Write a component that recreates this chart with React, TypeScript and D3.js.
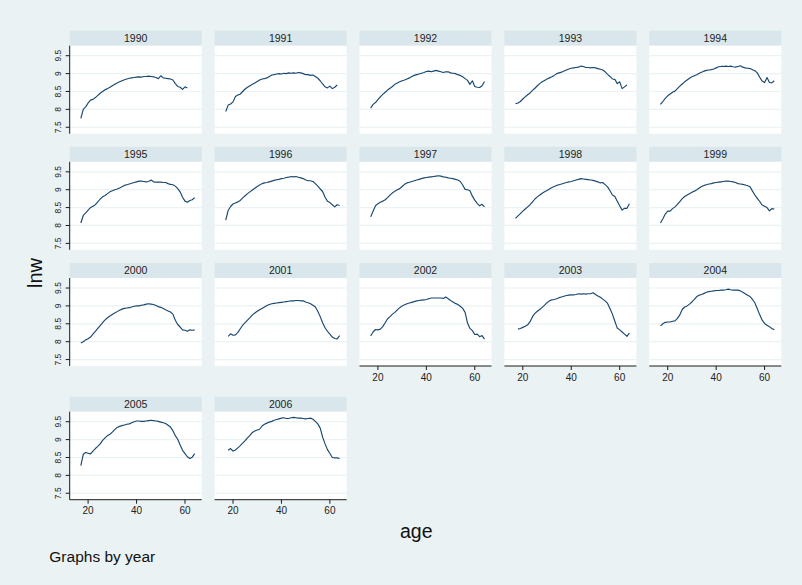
import React from "react";
import * as d3 from "d3";

// Mean log wage (lnw) by age, one series per survey year.
const years = [1990, 1991, 1992, 1993, 1994, 1995, 1996, 1997, 1998, 1999, 2000, 2001, 2002, 2003, 2004, 2005, 2006];
// First age observed in each year's series (ages run consecutively from here).
const startAges = [17, 17, 17, 17, 17, 17, 17, 17, 17, 17, 17, 18, 17, 18, 17, 17, 18];

const lnw1990 = [7.75, 8.0, 8.07, 8.18, 8.26, 8.28, 8.33, 8.39, 8.45, 8.5, 8.55, 8.58, 8.62, 8.66, 8.7, 8.74, 8.77, 8.8, 8.83, 8.85, 8.87, 8.88, 8.89, 8.9, 8.91, 8.9, 8.92, 8.92, 8.93, 8.92, 8.91, 8.89, 8.86, 8.94, 8.88, 8.87, 8.86, 8.85, 8.82, 8.72, 8.64, 8.62, 8.56, 8.63, 8.6];
const lnw1991 = [7.94, 8.12, 8.15, 8.21, 8.36, 8.4, 8.43, 8.5, 8.57, 8.62, 8.66, 8.7, 8.74, 8.78, 8.82, 8.85, 8.86, 8.88, 8.92, 8.96, 8.97, 8.99, 9.0, 8.99, 9.01, 9.0, 9.02, 9.01, 9.02, 9.01, 9.03, 9.02, 9.0, 8.97, 8.97, 8.95, 8.96, 8.92, 8.87, 8.8, 8.71, 8.63, 8.6, 8.65, 8.58, 8.62, 8.68];
const lnw1992 = [8.03, 8.14, 8.19, 8.27, 8.35, 8.42, 8.48, 8.54, 8.59, 8.64, 8.7, 8.74, 8.77, 8.8, 8.82, 8.85, 8.88, 8.92, 8.95, 8.97, 8.99, 9.01, 9.03, 9.06, 9.07, 9.05, 9.07, 9.09, 9.07, 9.05, 9.03, 9.05, 9.05, 9.02, 9.01, 9.0, 8.97, 8.95, 8.91, 8.86, 8.81, 8.7, 8.8, 8.64, 8.62, 8.61, 8.66, 8.78];
const lnw1993 = [8.16, 8.18, 8.22, 8.29, 8.35, 8.41, 8.46, 8.53, 8.59, 8.66, 8.72, 8.77, 8.81, 8.85, 8.88, 8.91, 8.95, 9.0, 9.02, 9.04, 9.07, 9.1, 9.13, 9.15, 9.16, 9.17, 9.18, 9.21, 9.2, 9.17, 9.17, 9.16, 9.17, 9.16, 9.14, 9.12, 9.1, 9.05, 8.98, 8.92, 8.85, 8.84, 8.72, 8.77, 8.58, 8.63, 8.68];
const lnw1994 = [8.14, 8.22, 8.31, 8.38, 8.43, 8.48, 8.51, 8.58, 8.65, 8.71, 8.77, 8.82, 8.87, 8.91, 8.94, 8.97, 9.01, 9.04, 9.07, 9.09, 9.1, 9.11, 9.13, 9.16, 9.19, 9.2, 9.2, 9.21, 9.2, 9.21, 9.19, 9.18, 9.2, 9.22, 9.18, 9.16, 9.15, 9.14, 9.11, 9.08, 9.02, 8.9, 8.79, 8.75, 8.89, 8.75, 8.74, 8.8];
const lnw1995 = [8.07, 8.28, 8.35, 8.43, 8.5, 8.54, 8.58, 8.66, 8.74, 8.8, 8.84, 8.89, 8.94, 8.97, 9.0, 9.02, 9.05, 9.08, 9.12, 9.14, 9.16, 9.18, 9.2, 9.22, 9.24, 9.24, 9.23, 9.22, 9.23, 9.27, 9.22, 9.21, 9.21, 9.21, 9.2, 9.2, 9.17, 9.15, 9.14, 9.1, 9.03, 8.94, 8.79, 8.68, 8.65, 8.7, 8.72, 8.78];
const lnw1996 = [8.15, 8.42, 8.53, 8.6, 8.63, 8.66, 8.7, 8.77, 8.83, 8.89, 8.94, 8.99, 9.04, 9.09, 9.13, 9.17, 9.19, 9.2, 9.22, 9.24, 9.26, 9.28, 9.29, 9.31, 9.32, 9.34, 9.35, 9.37, 9.36, 9.37, 9.35, 9.33, 9.31, 9.27, 9.25, 9.25, 9.23, 9.17, 9.1, 9.02, 8.95, 8.79, 8.68, 8.64, 8.58, 8.52, 8.58, 8.56];
const lnw1997 = [8.24, 8.4, 8.55, 8.61, 8.65, 8.68, 8.72, 8.78, 8.85, 8.91, 8.96, 9.0, 9.03, 9.09, 9.15, 9.19, 9.21, 9.23, 9.25, 9.27, 9.29, 9.31, 9.33, 9.34, 9.35, 9.36, 9.37, 9.38, 9.39, 9.38, 9.36, 9.35, 9.33, 9.32, 9.31, 9.29, 9.27, 9.23, 9.13, 9.01, 9.0, 8.97, 8.82, 8.71, 8.62, 8.55, 8.59, 8.52];
const lnw1998 = [8.2, 8.27, 8.33, 8.4, 8.46, 8.52, 8.58, 8.66, 8.74, 8.8, 8.85, 8.9, 8.94, 8.98, 9.02, 9.06, 9.09, 9.12, 9.14, 9.16, 9.18, 9.2, 9.22, 9.23, 9.25, 9.27, 9.29, 9.31, 9.3, 9.29, 9.28, 9.27, 9.26, 9.24, 9.22, 9.19, 9.2, 9.14, 9.08, 8.97, 8.85, 8.81, 8.68, 8.55, 8.43, 8.48, 8.48, 8.61];
const lnw1999 = [8.07, 8.19, 8.32, 8.4, 8.4, 8.47, 8.52, 8.59, 8.67, 8.75, 8.81, 8.85, 8.89, 8.93, 8.96, 9.0, 9.05, 9.09, 9.12, 9.14, 9.16, 9.17, 9.19, 9.2, 9.21, 9.22, 9.23, 9.24, 9.24, 9.23, 9.22, 9.2, 9.17, 9.16, 9.15, 9.13, 9.11, 9.08, 8.96, 8.85, 8.76, 8.67, 8.57, 8.54, 8.5, 8.41, 8.47, 8.46];
const lnw2000 = [7.96, 8.0, 8.05, 8.08, 8.13, 8.21, 8.29, 8.37, 8.45, 8.53, 8.61, 8.67, 8.72, 8.76, 8.8, 8.84, 8.88, 8.91, 8.93, 8.94, 8.95, 8.97, 8.99, 9.0, 9.0, 9.02, 9.03, 9.05, 9.06, 9.05, 9.04, 9.01, 8.98, 8.96, 8.93, 8.89, 8.86, 8.83, 8.77, 8.6, 8.48, 8.41, 8.33, 8.32, 8.29, 8.33, 8.32, 8.33];
const lnw2001 = [8.15, 8.22, 8.18, 8.19, 8.26, 8.36, 8.46, 8.53, 8.6, 8.67, 8.75, 8.8, 8.85, 8.89, 8.93, 8.97, 9.01, 9.04, 9.06, 9.07, 9.08, 9.09, 9.1, 9.11, 9.12, 9.13, 9.14, 9.14, 9.15, 9.15, 9.14, 9.14, 9.11, 9.09, 9.06, 9.02, 8.97, 8.85, 8.7, 8.53, 8.39, 8.29, 8.21, 8.13, 8.09, 8.08, 8.17];
const lnw2002 = [8.16, 8.27, 8.34, 8.33, 8.35, 8.42, 8.53, 8.64, 8.7, 8.77, 8.82, 8.89, 8.95, 9.0, 9.03, 9.06, 9.08, 9.1, 9.12, 9.14, 9.15, 9.16, 9.17, 9.18, 9.2, 9.22, 9.22, 9.22, 9.22, 9.22, 9.21, 9.25, 9.2, 9.15, 9.11, 9.07, 9.04, 8.99, 8.93, 8.82, 8.52, 8.37, 8.31, 8.2, 8.21, 8.14, 8.17, 8.07];
const lnw2003 = [8.35, 8.37, 8.4, 8.43, 8.47, 8.56, 8.7, 8.79, 8.85, 8.9, 8.96, 9.02, 9.09, 9.14, 9.17, 9.18, 9.2, 9.23, 9.25, 9.27, 9.29, 9.3, 9.31, 9.31, 9.32, 9.34, 9.33, 9.34, 9.33, 9.34, 9.34, 9.37, 9.32, 9.28, 9.24, 9.19, 9.14, 9.07, 8.93, 8.77, 8.57, 8.38, 8.33, 8.27, 8.21, 8.15, 8.24];
const lnw2004 = [8.44, 8.5, 8.54, 8.55, 8.55, 8.57, 8.58, 8.65, 8.75, 8.9, 8.97, 9.0, 9.05, 9.11, 9.18, 9.26, 9.3, 9.32, 9.35, 9.38, 9.4, 9.41, 9.42, 9.43, 9.43, 9.44, 9.44, 9.45, 9.47, 9.45, 9.44, 9.44, 9.44, 9.42, 9.38, 9.34, 9.3, 9.26, 9.18, 9.08, 8.92, 8.75, 8.6, 8.51, 8.46, 8.42, 8.37, 8.33];
const lnw2005 = [8.27, 8.59, 8.64, 8.62, 8.6, 8.68, 8.75, 8.81, 8.88, 8.98, 9.05, 9.11, 9.15, 9.21, 9.28, 9.34, 9.37, 9.39, 9.41, 9.43, 9.44, 9.47, 9.5, 9.52, 9.52, 9.51, 9.51, 9.52, 9.53, 9.54, 9.53, 9.52, 9.51, 9.49, 9.47, 9.45, 9.4, 9.35, 9.25, 9.11, 9.01, 8.85, 8.7, 8.61, 8.52, 8.47, 8.51, 8.61];
const lnw2006 = [8.7, 8.75, 8.68, 8.71, 8.77, 8.83, 8.9, 8.97, 9.05, 9.12, 9.2, 9.24, 9.27, 9.29, 9.38, 9.43, 9.46, 9.49, 9.51, 9.54, 9.56, 9.58, 9.6, 9.61, 9.59, 9.59, 9.61, 9.62, 9.61, 9.6, 9.6, 9.59, 9.58, 9.59, 9.6, 9.57, 9.51, 9.44, 9.32, 9.07, 8.88, 8.72, 8.61, 8.5, 8.49, 8.49, 8.47];

const lnwByYear = [lnw1990, lnw1991, lnw1992, lnw1993, lnw1994, lnw1995, lnw1996, lnw1997, lnw1998, lnw1999, lnw2000, lnw2001, lnw2002, lnw2003, lnw2004, lnw2005, lnw2006];

const yTicks = [7.5, 8, 8.5, 9, 9.5];
const xTicks = [20, 40, 60];

// Layout of the 5-column grid of small panels
const W = 802;
const H = 585;
const COLS = 5;
const colLeft0 = 69.7;
const colStep = 144.9;
const panelW = 132;
const rowTops = [30.7, 146.8, 263, 396.7];
const stripH = 15;
const plotH = 88;

const BG = "#eaf2f3";
const STRIP = "#d9e6eb";
const LINE = "#1a476f";
const GRID = "#eaf2f3";
const FONT = "'Liberation Sans', Arial, Helvetica, sans-serif";

const x = d3.scaleLinear().domain([12.4, 66.9]).range([0, panelW]);
const y = d3.scaleLinear().domain([7.32, 9.78]).range([plotH, 0]);

type Pt = { age: number; v: number };
const line = d3
  .line<Pt>()
  .x((d) => x(d.age))
  .y((d) => y(d.v));

const n = years.length;
const lastRowStart = Math.floor((n - 1) / COLS) * COLS;

function Panel({ idx }: { idx: number }) {
  const row = Math.floor(idx / COLS);
  const col = idx % COLS;
  const left = colLeft0 + col * colStep;
  const top = rowTops[row];
  const plotTop = top + stripH;
  const pts: Pt[] = lnwByYear[idx].map((v, i) => ({ age: startAges[idx] + i, v }));
  const showY = col === 0;
  // bottom axis where nothing sits below this panel
  const showX = idx + COLS >= n;
  return (
    <g>
      <rect x={left} y={top} width={panelW} height={stripH} fill={STRIP} />
      <text
        x={left + panelW / 2}
        y={top + 11}
        textAnchor="middle"
        fontSize={10.5}
        fontFamily={FONT}
        fill="#1e1e1e"
      >
        {years[idx]}
      </text>
      <g transform={`translate(${left},${plotTop})`}>
        <rect x={0} y={0} width={panelW} height={plotH} fill="#ffffff" />
        {yTicks.map((t) => (
          <line key={t} x1={0} x2={panelW} y1={y(t)} y2={y(t)} stroke={GRID} strokeWidth={1.2} />
        ))}
        <path d={line(pts) || ""} fill="none" stroke={LINE} strokeWidth={1.15} strokeLinejoin="round" />
        {showY && (
          <g>
            <line x1={0} x2={0} y1={0} y2={plotH} stroke="#1a1a1a" strokeWidth={1} />
            {yTicks.map((t) => (
              <g key={t}>
                <line x1={-4} x2={0} y1={y(t)} y2={y(t)} stroke="#1a1a1a" strokeWidth={1} />
                <text
                  transform={`translate(${-8.3},${y(t)}) rotate(-90)`}
                  textAnchor="middle"
                  fontSize={8.5}
                  fontFamily={FONT}
                  fill="#222"
                >
                  {t}
                </text>
              </g>
            ))}
          </g>
        )}
        {showX && (
          <g transform={`translate(0,${plotH})`}>
            <line x1={0} x2={panelW} y1={0} y2={0} stroke="#1a1a1a" strokeWidth={1} />
            {xTicks.map((t) => (
              <g key={t}>
                <line x1={x(t)} x2={x(t)} y1={0} y2={4} stroke="#1a1a1a" strokeWidth={1} />
                <text
                  x={x(t)}
                  y={14.8}
                  textAnchor="middle"
                  fontSize={10}
                  fontFamily={FONT}
                  fill="#222"
                >
                  {t}
                </text>
              </g>
            ))}
          </g>
        )}
      </g>
    </g>
  );
}

export default function App() {
  return (
    <div style={{ position: "absolute", left: 0, top: 0, width: W, height: H }}>
      <svg width={W} height={H} style={{ display: "block" }}>
        <rect x={0} y={0} width={W} height={H} fill={BG} />
        {years.map((_, i) => (
          <Panel key={years[i]} idx={i} />
        ))}
        <text
          transform={`translate(41.7,273) rotate(-90)`}
          textAnchor="middle"
          fontSize={20}
          fontFamily={FONT}
          fill="#111"
        >
          lnw
        </text>
        <text x={416.3} y={538.3} textAnchor="middle" fontSize={19.5} fontFamily={FONT} fill="#111">
          age
        </text>
        <text x={49.3} y={561.7} fontSize={15.5} fontFamily={FONT} fill="#111">
          Graphs by year
        </text>
      </svg>
    </div>
  );
}
